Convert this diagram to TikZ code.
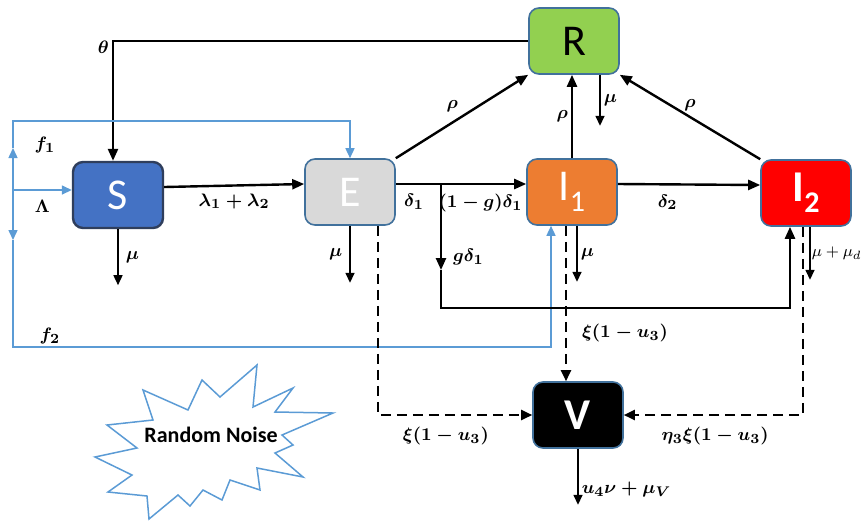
\documentclass[tikz,border=0pt]{standalone}
\usepackage{amsmath,amssymb}
\usepackage[no-math]{fontspec}
\newfontfamily\carlito{Carlito}
\usepackage{tikz}
\usetikzlibrary{arrows.meta, positioning, calc}

\definecolor{sfill}{HTML}{4472C4}
\definecolor{sedge}{HTML}{2F3E5C}
\definecolor{edge}{HTML}{41719C}
\definecolor{efill}{HTML}{D9D9D9}
\definecolor{rfill}{HTML}{92D050}
\definecolor{ifill}{HTML}{ED7D31}
\definecolor{jfill}{HTML}{FF0000}
\definecolor{noiseblue}{HTML}{5B9BD5}

\newcommand{\compsub}[1]{\raisebox{-0.25em}{\fontsize{15}{15}\selectfont #1}}

\begin{document}
\begin{tikzpicture}[x=0.5pt, y=-0.5pt,
    comp/.style={rectangle, rounded corners=5pt, draw=edge, line width=0.8pt, minimum width=45pt, minimum height=33pt, inner sep=0pt, text=white, font=\carlito\fontsize{22}{24}\selectfont},
    lbl/.style={font=\fontsize{9.5}{11}\selectfont, inner sep=1.5pt},
    arr/.style={-{Triangle[length=6pt, width=5pt]}, line width=1.2pt, draw=black},
    thinarr/.style={-{Triangle[length=5pt, width=4.5pt]}, line width=0.75pt, draw=black},
    dasharr/.style={-{Triangle[length=5.5pt, width=5pt]}, line width=1pt, dash pattern=on 5pt off 3pt},
    bluearr/.style={-{Triangle[length=5pt, width=4.5pt]}, line width=0.75pt, draw=noiseblue},
]
\useasboundingbox (0,0) rectangle (867,521);

\node[comp, fill=sfill, draw=sedge, line width=1.2pt] (S) at (118,195) {S};
\node[comp, fill=efill] (E) at (350,192) {E};
\node[comp, fill=rfill, text=black] (R) at (574,41) {R};
\node[comp, fill=ifill] (I1) at (572,192) {I\compsub{1}};
\node[comp, fill=jfill, font=\carlito\bfseries\fontsize{22}{24}\selectfont] (I2) at (806,193) {I\compsub{2}};
\node[comp, fill=black, font=\carlito\bfseries\fontsize{22}{24}\selectfont] (V) at (578,415) {V};

\coordinate (lam) at (13,190);
\coordinate (f1mid) at (13,148);
\coordinate (f1top) at (13,121);
\coordinate (f2mid) at (13,240);
\coordinate (f2bot) at (13,347);
\coordinate (eo) at ([yshift=4pt]E.east);
\coordinate (gd) at (441,270);
\coordinate (lp) at (441,308);
\coordinate (i1d) at ([xshift=-3pt]I1.south);

\draw[arr] (R.west) -| node[pos=0.5, anchor=east, yshift=-3pt, lbl]{$\boldsymbol{\theta}$} ([xshift=-2.5pt]S.north);
\draw[arr] ([yshift=4pt]S.east) -- node[below=2pt, lbl]{$\boldsymbol{\lambda_1+\lambda_2}$} ([yshift=4pt]E.west);
\draw[thinarr] (S.south) -- node[right=2pt, lbl]{$\boldsymbol{\mu}$} ++(0,56);

\draw[bluearr] (lam) -- node[below=3pt, lbl]{$\boldsymbol{\Lambda}$} (lam -| S.west);
\draw[bluearr] (lam) -- (f1mid);
\draw[bluearr] (f1mid) -- (f1top) -| (E.north);
\draw[bluearr] (lam) -- (f2mid);
\draw[bluearr] (f2mid) -- (f2bot) -| ([xshift=-10.5pt]I1.south);
\node[lbl] (f1lbl) at (45,145) {$\boldsymbol{f_1}$};
\node[lbl] (f2lbl) at (50,336) {$\boldsymbol{f_2}$};

\draw[arr] (E.north east) -- node[above left, lbl]{$\boldsymbol{\rho}$} (R.south west);
\draw[arr] (eo) -- node[pos=0.14, below=3pt, lbl]{$\boldsymbol{\delta_1}$} node[pos=0.65, below=3pt, lbl]{$\boldsymbol{(1-g)\delta_1}$} ([yshift=4pt]I1.west);
\draw[arr] (eo -| gd) -- node[pos=0.85, right=4pt, lbl]{$\boldsymbol{g\delta_1}$} (gd);
\draw[arr] (gd) -- (lp) -| ([xshift=-8pt]I2.south);
\draw[thinarr] (E.south) -- node[left=2pt, lbl]{$\boldsymbol{\mu}$} ++(0,57);
\draw[dasharr] ([xshift=14pt]E.south) |- node[pos=0.72, below=4pt, lbl]{$\boldsymbol{\xi(1-u_3)}$} (V.west);

\draw[arr] (I1.north) -- node[left, lbl]{$\boldsymbol{\rho}$} (I1.north |- R.south);
\draw[thinarr] ([xshift=13pt]R.south) -- node[right, lbl]{$\boldsymbol{\mu}$} ++(0,51);
\draw[arr] (I2.north west) -- node[above=1pt, lbl]{$\boldsymbol{\rho}$} (R.south east);
\draw[arr] ([yshift=4pt]I1.east) -- node[pos=0.35, below=3pt, lbl]{$\boldsymbol{\delta_2}$} ([yshift=4pt]I2.west);
\draw[thinarr] ([xshift=2.5pt]I1.south) -- node[right, lbl]{$\boldsymbol{\mu}$} ++(0,56);
\draw[dasharr] (i1d) -- node[pos=0.69, right=6pt, lbl]{$\boldsymbol{\xi(1-u_3)}$} (i1d |- V.north);
\draw[thinarr] ([xshift=2pt]I2.south) -- node[right=0pt, lbl, inner sep=0.5pt, font=\fontsize{8.5}{10}\selectfont]{$\mu+\mu_d$} ++(0,53);
\draw[dasharr] ([xshift=-1.5pt]I2.south) |- node[pos=0.745, below=4pt, lbl]{$\boldsymbol{\eta_3\xi(1-u_3)}$} (V.east);
\draw[thinarr] (V.south) -- node[pos=0.73, right, lbl]{$\boldsymbol{u_4\nu+\mu_V}$} ++(0,56);

\draw[noiseblue, line width=0.75pt, line join=miter] (257,365) -- (253,407) -- (293,388) -- (275,412) -- (333,413) -- (282,435) -- (293,445) -- (275,453) -- (303,477) -- (257,468) -- (260,490) -- (230,480) -- (222,500) -- (203,490) -- (190,506) -- (178,495) -- (149,519) -- (147,496) -- (108,492) -- (132,475) -- (95,457) -- (137,448) -- (107,425) -- (153,420) -- (143,390) -- (188,410) -- (202,380) -- (220,397) -- cycle;
\node[font=\carlito\bfseries\fontsize{11}{13}\selectfont] (noise) at (211,435) {Random Noise};
\end{tikzpicture}
\end{document}
